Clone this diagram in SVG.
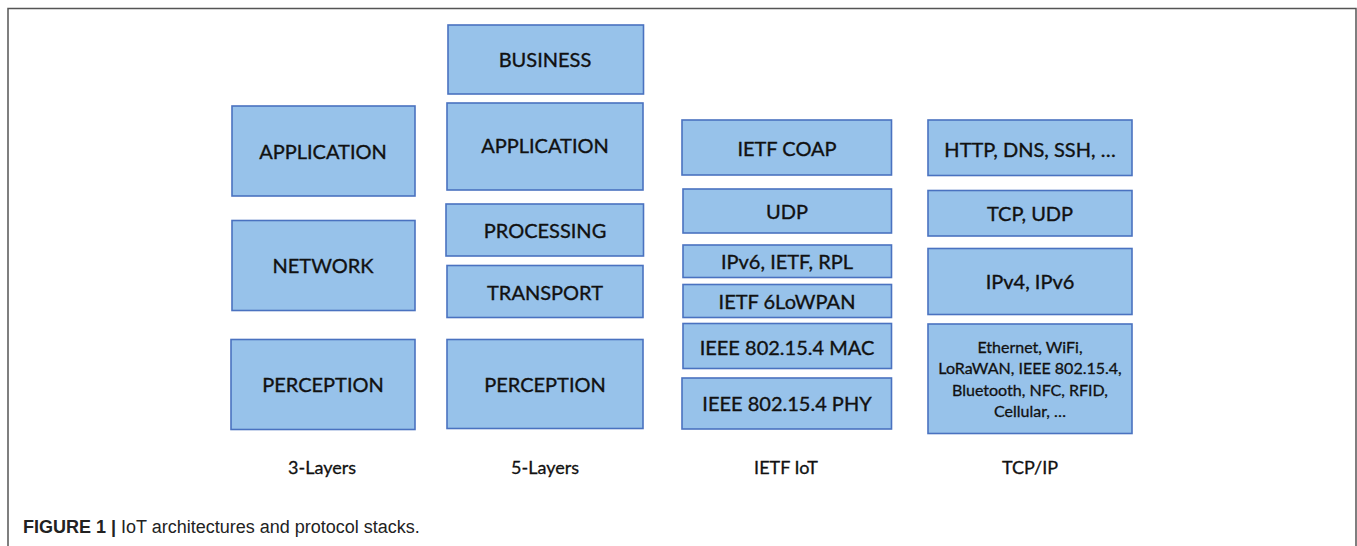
<svg xmlns="http://www.w3.org/2000/svg" width="1357" height="546" viewBox="0 0 1357 546">
<style>
.box{fill:#97C2EA;stroke:#4A72C0;stroke-width:1.6}
.t{font-family:Lato,"Open Sans",sans-serif;font-size:20px;fill:#111;stroke:#111;stroke-width:0.35;text-anchor:middle}
.s{font-family:Lato,"Open Sans",sans-serif;font-size:16px;fill:#111;stroke:#111;stroke-width:0.3;text-anchor:middle}
.l{font-family:Lato,"Open Sans",sans-serif;font-size:18px;fill:#111;stroke:#111;stroke-width:0.3;text-anchor:middle}
.cap{font-family:"Liberation Sans",Arial,sans-serif;font-size:18px;fill:#222}
</style>
<rect width="1357" height="546" fill="#fff"/>
<path d="M8,560 V8.5 H1356 V560" fill="none" stroke="#555" stroke-width="1.5"/>
<g id="three-layers">
<g id="n3-app"><rect class="box" x="232" y="106" width="183" height="90"/><text class="t" x="323" y="159">APPLICATION</text></g>
<g id="n3-net"><rect class="box" x="232" y="220.5" width="183" height="90"/><text class="t" x="323" y="273">NETWORK</text></g>
<g id="n3-per"><rect class="box" x="231" y="339.5" width="184" height="90"/><text class="t" x="323" y="392">PERCEPTION</text></g>
<text class="l" x="322" y="474">3-Layers</text>
</g>
<g id="five-layers">
<g id="n5-bus"><rect class="box" x="448" y="25" width="195.5" height="69"/><text class="t" x="545" y="67">BUSINESS</text></g>
<g id="n5-app"><rect class="box" x="447" y="103" width="196" height="87"/><text class="t" x="545" y="153">APPLICATION</text></g>
<g id="n5-pro"><rect class="box" x="446" y="204" width="197.5" height="52"/><text class="t" x="545" y="238">PROCESSING</text></g>
<g id="n5-tra"><rect class="box" x="447" y="265.5" width="196" height="52"/><text class="t" x="545" y="299.5">TRANSPORT</text></g>
<g id="n5-per"><rect class="box" x="447" y="339.5" width="196" height="89"/><text class="t" x="545" y="392">PERCEPTION</text></g>
<text class="l" x="545" y="474">5-Layers</text>
</g>
<g id="ietf">
<g id="ni-coap"><rect class="box" x="682" y="120" width="209.5" height="55"/><text class="t" x="787" y="156">IETF COAP</text></g>
<g id="ni-udp"><rect class="box" x="683" y="189" width="208.5" height="44"/><text class="t" x="787" y="219">UDP</text></g>
<g id="ni-ipv6"><rect class="box" x="683" y="245" width="208.5" height="32.5"/><text class="t" x="787" y="269">IPv6, IETF, RPL</text></g>
<g id="ni-6lo"><rect class="box" x="683" y="284.5" width="208.5" height="33"/><text class="t" x="787" y="308.5">IETF 6LoWPAN</text></g>
<g id="ni-mac"><rect class="box" x="683" y="323.5" width="208.5" height="45"/><text class="t" x="787" y="354.5">IEEE 802.15.4 MAC</text></g>
<g id="ni-phy"><rect class="box" x="682" y="378" width="209.5" height="51"/><text class="t" x="787" y="411">IEEE 802.15.4 PHY</text></g>
<text class="l" x="786" y="474">IETF IoT</text>
</g>
<g id="tcpip">
<g id="nt-app"><rect class="box" x="928" y="120" width="204" height="55.5"/><text class="t" x="1030" y="157">HTTP, DNS, SSH, …</text></g>
<g id="nt-tra"><rect class="box" x="928" y="190.5" width="204" height="45.5"/><text class="t" x="1030" y="220.5">TCP, UDP</text></g>
<g id="nt-net"><rect class="box" x="928" y="248.5" width="204" height="66"/><text class="t" x="1030" y="289">IPv4, IPv6</text></g>
<g id="nt-link"><rect class="box" x="928" y="324" width="204" height="109.5"/>
<text class="s"><tspan x="1030" y="352.5">Ethernet, WiFi,</tspan><tspan x="1030" y="374">LoRaWAN, IEEE 802.15.4,</tspan><tspan x="1030" y="395.5">Bluetooth, NFC, RFID,</tspan><tspan x="1030" y="417">Cellular, …</tspan></text></g>
<text class="l" x="1030" y="474">TCP/IP</text>
</g>
<g id="connectors"/>
<text class="cap" x="23" y="533"><tspan font-weight="bold">FIGURE 1 |</tspan> IoT architectures and protocol stacks.</text>
</svg>
